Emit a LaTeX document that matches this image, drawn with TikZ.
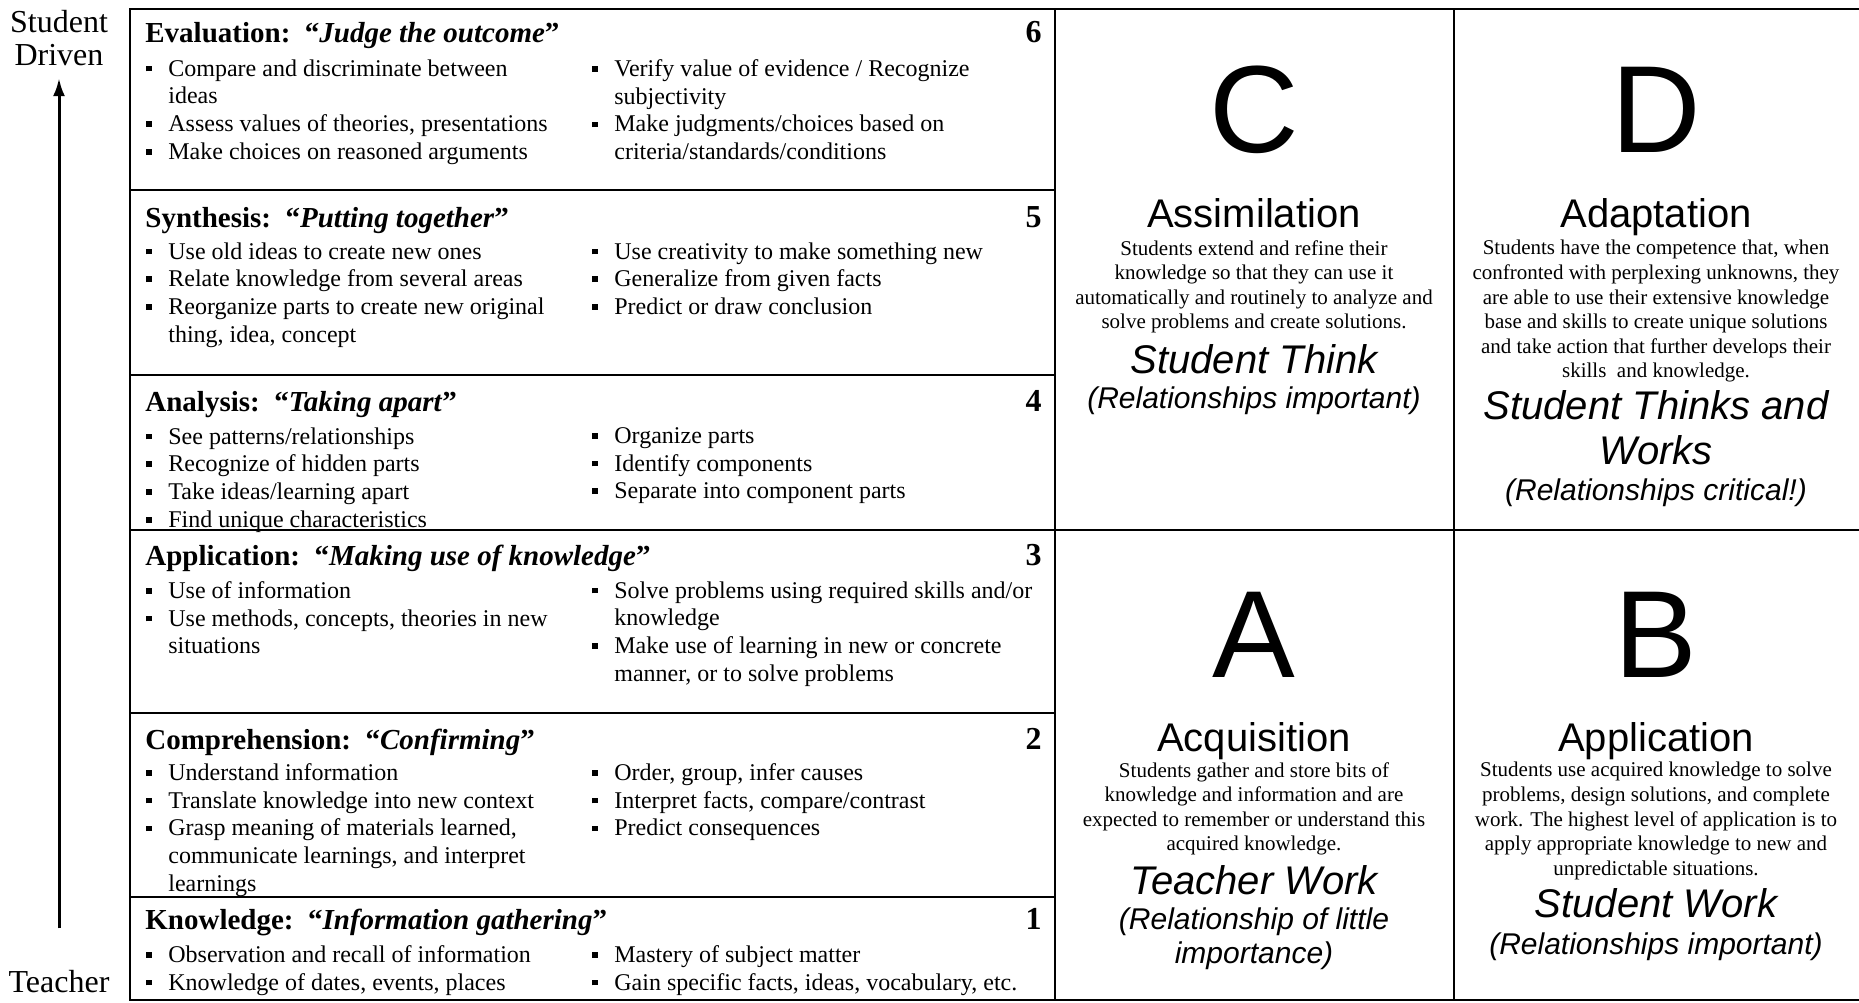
\documentclass[tikz,border=0pt]{standalone}
\usepackage{fontspec}
\setmainfont{Liberation Serif}
\newfontfamily\quadfont{Liberation Sans}
\usetikzlibrary{arrows.meta}
\newcommand{\sq}{\makebox[11pt][l]{\rule[0.2em]{2.8pt}{2.8pt}}}
\newcommand{\ind}{\hspace*{11pt}}

\begin{document}
\begin{tikzpicture}[x=0.5pt,y=-0.5pt,
  every node/.style={inner sep=0pt},
  head/.style={anchor=base west,font=\fontsize{14.5}{16}\selectfont},
  lvl/.style={anchor=base east,font=\bfseries\fontsize{16}{18}\selectfont},
  items/.style={anchor=north west,align=left,font=\fontsize{12}{13.9}\selectfont,execute at begin node=\rule{0pt}{10pt}},
  bigletter/.style={font=\quadfont\fontsize{62}{62}\selectfont},
  qtitle/.style={anchor=base,font=\quadfont\fontsize{20}{22}\selectfont},
  qtext/.style={anchor=north,align=center,font=\fontsize{10.5}{12.3}\selectfont,execute at begin node=\rule{0pt}{9pt}},
  qwork/.style={anchor=north,align=center,font=\quadfont\itshape\fontsize{20}{22.5}\selectfont,execute at begin node=\rule{0pt}{17pt}},
  qrel/.style={anchor=north,align=center,font=\quadfont\itshape\fontsize{15}{17}\selectfont,execute at begin node=\rule{0pt}{13pt}},
  side/.style={font=\fontsize{16}{18}\selectfont}]
\useasboundingbox (0,0) rectangle (1859,1002);

\draw [line width=1.2pt] (1870,9) -- (130,9) -- (130,1000) -- (1870,1000);
\draw [line width=1.2pt] (1055,9) -- (1055,1000);
\draw [line width=1pt] (1454,9) -- (1454,1000);
\draw [line width=1.2pt] (1055,530) -- (1870,530);
\foreach \y in {190,375,530,713,897}
  \draw [line width=1.2pt] (130,\y) -- (1055,\y);

\node [side] (student) at (59,22) {Student};
\node [side] (driven) at (59,55) {Driven};
\node [side] (teacher) at (59,982) {Teacher};
\draw [line width=1.5pt,-{Latex[length=9pt,width=6pt]},shorten <=21pt,shorten >=6pt] (teacher.north) -- (driven.south);

\node [head] (evalh) at (145,42) {\textbf{Evaluation:\ \ “\textit{Judge the outcome}”}};
\node [lvl] (evaln) at (1042,42) {6};
\node [items] (evall) at (146,59) {\sq Compare and discriminate between\\ \ind ideas\\ \sq Assess values of theories, presentations\\ \sq Make choices on reasoned arguments};
\node [items] (evalr) at (592,59) {\sq Verify value of evidence / Recognize\\ \ind subjectivity\\ \sq Make judgments/choices based on\\ \ind criteria/standards/conditions};

\node [head] (synh) at (145,227) {\textbf{Synthesis:\ \ “\textit{Putting together}”}};
\node [lvl] (synn) at (1042,227) {5};
\node [items] (synl) at (146,242) {\sq Use old ideas to create new ones\\ \sq Relate knowledge from several areas\\ \sq Reorganize parts to create new original\\ \ind thing, idea, concept};
\node [items] (synr) at (592,242) {\sq Use creativity to make something new\\ \sq Generalize from given facts\\ \sq Predict or draw conclusion};

\node [head] (anah) at (145,411) {\textbf{Analysis:\ \ “\textit{Taking apart}”}};
\node [lvl] (anan) at (1042,411) {4};
\node [items] (anal) at (146,427) {\sq See patterns/relationships\\ \sq Recognize of hidden parts\\ \sq Take ideas/learning apart\\ \sq Find unique characteristics};
\node [items] (anar) at (592,427) {\sq Organize parts\\ \sq Identify components\\ \sq Separate into component parts};

\node [head] (apph) at (145,565) {\textbf{Application:\ \ “\textit{Making use of knowledge}”}};
\node [lvl] (appn) at (1042,565) {3};
\node [items] (appl) at (146,581) {\sq Use of information\\ \sq Use methods, concepts, theories in new\\ \ind situations};
\node [items] (appr) at (592,581) {\sq Solve problems using required skills and/or\\ \ind knowledge\\ \sq Make use of learning in new or concrete\\ \ind manner, or to solve problems};

\node [head] (comh) at (145,749) {\textbf{Comprehension:\ \ “\textit{Confirming}”}};
\node [lvl] (comn) at (1042,749) {2};
\node [items] (coml) at (146,763) {\sq Understand information\\ \sq Translate knowledge into new context\\ \sq Grasp meaning of materials learned,\\ \ind communicate learnings, and interpret\\ \ind learnings};
\node [items] (comr) at (592,763) {\sq Order, group, infer causes\\ \sq Interpret facts, compare/contrast\\ \sq Predict consequences};

\node [head] (knoh) at (145,929) {\textbf{Knowledge:\ \ “\textit{Information gathering}”}};
\node [lvl] (knon) at (1042,929) {1};
\node [items] (knol) at (146,945) {\sq Observation and recall of information\\ \sq Knowledge of dates, events, places};
\node [items] (knor) at (592,945) {\sq Mastery of subject matter\\ \sq Gain specific facts, ideas, vocabulary, etc.};

\node [bigletter] (qC) at (1254,110) {C};
\node [qtitle] (qCt) at (1254,227) {Assimilation};
\node [qtext] (qCx) at (1254,240) {Students extend and refine their\\ knowledge so that they can use it\\ automatically and routinely to analyze and\\ solve problems and create solutions.};
\node [qwork] (qCw) at (1254,339) {Student Think};
\node [qrel] (qCr) at (1254,382) {(Relationships important)};

\node [bigletter] (qD) at (1656,110) {D};
\node [qtitle] (qDt) at (1656,227) {Adaptation};
\node [qtext] (qDx) at (1656,240) {Students have the competence that, when\\ confronted with perplexing unknowns, they\\ are able to use their extensive knowledge\\ base and skills to create unique solutions\\ and take action that further develops their\\ skills\ \ and knowledge.};
\node [qwork] (qDw) at (1656,390) {Student Thinks and\\ Works};
\node [qrel] (qDr) at (1656,474) {(Relationships critical!)};

\node [bigletter] (qA) at (1254,635) {A};
\node [qtitle] (qAt) at (1254,751) {Acquisition};
\node [qtext] (qAx) at (1254,762) {Students gather and store bits of\\ knowledge and information and are\\ expected to remember or understand this\\ acquired knowledge.};
\node [qwork] (qAw) at (1254,860) {Teacher Work};
\node [qrel] (qAr) at (1254,907) {(Relationship of little\\ importance)};

\node [bigletter] (qB) at (1656,635) {B};
\node [qtitle] (qBt) at (1656,751) {Application};
\node [qtext] (qBx) at (1656,762) {Students use acquired knowledge to solve\\ problems, design solutions, and complete\\ work. The highest level of application is to\\ apply appropriate knowledge to new and\\ unpredictable situations.};
\node [qwork] (qBw) at (1656,883) {Student Work};
\node [qrel] (qBr) at (1656,928) {(Relationships important)};

\end{tikzpicture}
\end{document}
